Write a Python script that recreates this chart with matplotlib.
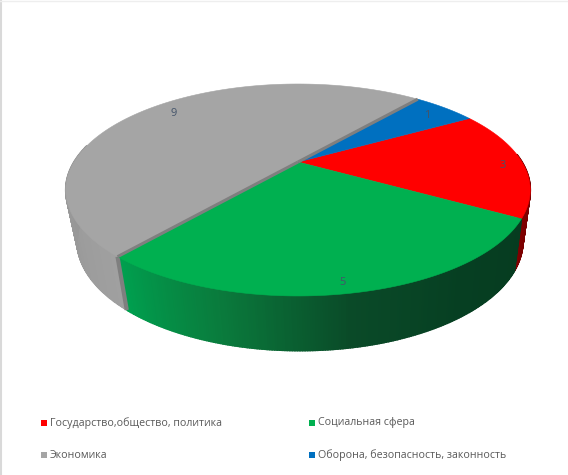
import numpy as np
import matplotlib.pyplot as plt
from matplotlib.colors import LinearSegmentedColormap

kategorie = ["Государство,общество, политика", "Социальная сфера", "Экономика", "Оборона, безопасность, законность"]
wartosci = [3, 5, 9, 1]
kolory = ["#ff0000", "#00b050", "#a5a5a5", "#0070c0"]

# gradient boku kazdego wycinka (zgodnie z katem)
boki = [["#5a0000", "#800000"],
        ["#063c20", "#063f22", "#0a4a28", "#0a7a3c", "#00a04f"],
        ["#a0a0a0", "#8c8c8c", "#8c8c8c"],
        ["#00508c", "#00508c"]]

start = 60  # kat poczatkowy, zgodnie z zegarem od gory
k = 0.264   # sila perspektywy


# punkt na okregu -> piksel na obrazku
def gora(kat, r=1.0):
    u = r * np.sin(np.radians(kat))
    v = r * np.cos(np.radians(kat))
    m = 1 + k * v
    return 298 + 224 * u / m, 162 - 98.6 * v / m


def dol(kat):
    u = np.sin(np.radians(kat))
    v = np.cos(np.radians(kat))
    m = 1 + k * v
    return 300 + 215 * u / m, 212 - 102 * v / m


fig = plt.figure(figsize=(5.68, 4.75), dpi=100)
ax = fig.add_axes([0, 0, 1, 1])
ax.set_xlim(0, 568)
ax.set_ylim(475, 0)
ax.axis("off")
plt.rcParams['font.family'] = ['Open Sans', 'DejaVu Sans']

# katy wycinkow
katy = []
a = start
for w in wartosci:
    katy.append((a, a + 360 * w / sum(wartosci)))
    a = katy[-1][1]

# boki walca
krok = 0.5
for i, (a0, a1) in enumerate(katy):
    cmap = LinearSegmentedColormap.from_list("bok", boki[i])
    siatka = np.arange(a0, a1, krok)
    for j, t in enumerate(siatka):
        if not (85 < (t % 360) < 280):
            continue
        t2 = min(t + krok, a1)
        xg0, yg0 = gora(t)
        xg1, yg1 = gora(t2)
        xd0, yd0 = dol(t)
        xd1, yd1 = dol(t2)
        c = cmap(j / max(len(siatka) - 1, 1))
        ax.fill([xg0, xg1, xd1, xd0], [yg0, yg1, yd1, yd0], color=c, lw=1.2, zorder=2)

# sciana przekroju szarego wycinka
a0, a1 = katy[2]
xs, ys = gora(a0)
xd, yd = dol(a0)
ax.plot([xs, xd], [ys, yd], color="#7f7f7f", lw=3, zorder=2.5, solid_capstyle="butt")

# gorna powierzchnia
for i, (a0, a1) in enumerate(katy):
    t = np.linspace(a0, a1, 200)
    x, y = gora(t)
    ax.fill(np.r_[298, x], np.r_[162, y], color=kolory[i], lw=0.4, zorder=3)

# krawedz przekroju szarego wycinka
a0, a1 = katy[2]
for t in (a0, a1):
    xe, ye = gora(t)
    ax.plot([298, xe], [162, ye], color="#7f7f7f", lw=2.2, zorder=4, solid_capstyle="butt")

# etykiety danych
przesuniecia = [(0, 3), (-2, 4), (12, 2), (-7, 4)]
for (a0, a1), w, (dx, dy) in zip(katy, wartosci, przesuniecia):
    xt, yt = gora((a0 + a1) / 2, 0.915)
    ax.text(xt + dx, yt + dy, str(w), fontsize=8, color="#44546a", ha="center", va="center", zorder=5)

# legenda
pozycje = [(44, 423), (312, 423), (44, 455), (312, 455)]
for (x, y), nazwa, c in zip(pozycje, kategorie, kolory):
    ax.scatter([x], [y], marker="s", s=19, color=c, linewidths=0, zorder=5)
    ax.text(x + 6, y, nazwa, fontsize=7.65, color="#595959", ha="left", va="center")

# cienka ramka z lewej i u gory
ax.plot([0.5, 0.5], [0, 475], color="#d9d9d9", lw=1.5)
ax.plot([0, 568], [0.5, 0.5], color="#eeeeee", lw=1)

plt.savefig("out.png", dpi=100)
